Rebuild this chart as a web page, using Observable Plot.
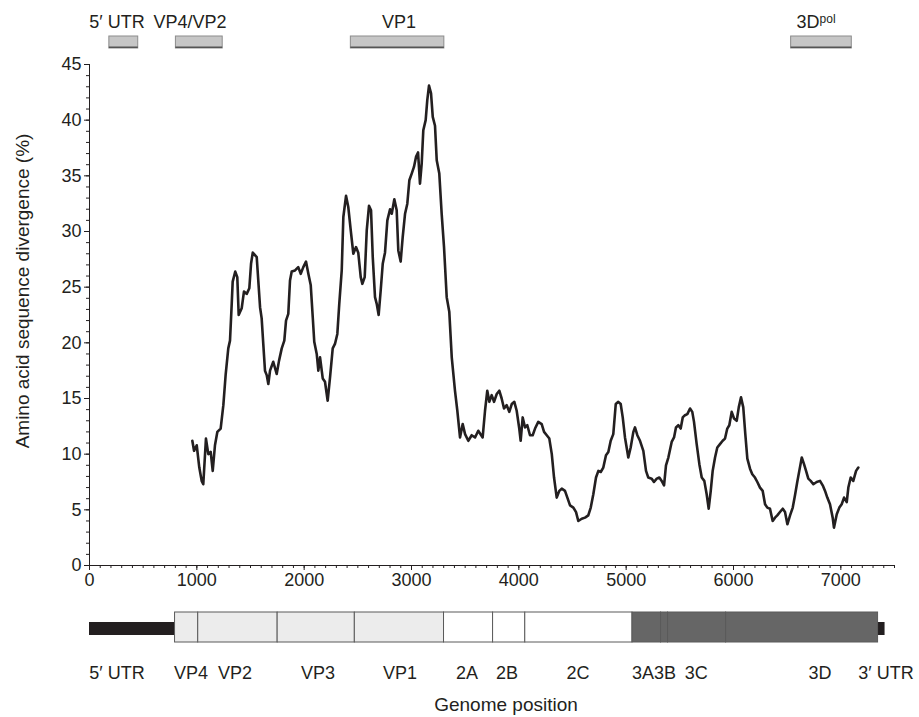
<!DOCTYPE html>
<html><head><meta charset="utf-8">
<script src="https://cdn.jsdelivr.net/npm/d3@7"></script>
<script src="https://cdn.jsdelivr.net/npm/@observablehq/plot@0.6"></script>
<style>
body{margin:0;background:#fff;}
#chart{width:919px;height:717px;overflow:hidden;}
#chart svg{display:block;}
</style></head><body><div id="chart"></div>
<script>
// ---- data ----
const positions = [958,974,999,1023,1045,1060,1085,1107,1129,1148,
1169,1191,1222,1247,1269,1293,1309,1325,1334,1358,
1377,1390,1418,1439,1465,1489,1505,1521,1558,1589,
1604,1619,1635,1651,1666,1682,1712,1744,1766,1791,
1815,1831,1852,1868,1884,1915,1945,1968,1992,2017,
2039,2061,2080,2094,2117,2132,2148,2173,2194,2219,
2241,2266,2287,2309,2327,2350,2365,2390,2411,2434,
2458,2483,2504,2527,2542,2564,2583,2604,2623,2639,
2660,2676,2694,2713,2732,2753,2775,2800,2816,2840,
2862,2877,2899,2918,2940,2961,2980,3002,3023,3042,
3061,3079,3095,3110,3132,3147,3163,3182,3198,3219,
3235,3259,3281,3303,3328,3352,3375,3405,3427,3452,
3477,3499,3529,3561,3592,3622,3663,3685,3706,3725,
3747,3769,3794,3818,3840,3862,3887,3911,3934,3958,
3980,4004,4017,4036,4058,4079,4104,4129,4151,4181,
4213,4235,4260,4284,4307,4328,4353,4377,4400,4430,
4452,4477,4508,4533,4554,4586,4617,4647,4670,4694,
4719,4741,4763,4787,4812,4834,4856,4880,4903,4927,
4949,4968,4989,5020,5042,5067,5082,5104,5129,5160,
5185,5206,5238,5259,5285,5309,5331,5353,5371,5393,
5424,5446,5464,5486,5508,5527,5548,5570,5595,5616,
5632,5657,5682,5704,5728,5750,5769,5788,5806,5828,
5849,5874,5899,5921,5942,5961,5983,6005,6030,6049,
6070,6091,6110,6129,6154,6175,6200,6222,6247,6272,
6294,6315,6340,6365,6387,6408,6433,6459,6480,6502,
6527,6552,6573,6594,6613,6636,6657,6676,6697,6719,
6744,6775,6806,6831,6853,6874,6899,6924,6936,6962,
6986,7008,7030,7055,7070,7092,7116,7142,7163];
const divergence = [11.2,10.3,10.8,8.8,7.6,7.3,11.4,10.0,10.2,8.5,
10.8,12.0,12.3,14.4,17.2,19.5,20.2,23.5,25.5,26.4,
25.9,22.5,23.1,24.6,24.4,24.9,27.1,28.1,27.7,23.2,
22.2,19.9,17.5,17.1,16.3,17.5,18.3,17.2,18.4,19.5,
20.2,22.0,22.6,25.6,26.4,26.5,26.8,26.2,26.8,27.3,
26.2,25.2,22.3,20.1,19.0,17.5,18.7,16.8,16.5,14.8,
16.9,19.5,19.9,20.8,23.5,26.5,31.3,33.2,32.2,30.1,
28.0,28.6,28.1,25.9,25.3,25.9,30.1,32.3,31.9,27.7,
24.1,23.5,22.5,24.7,27.1,28.1,31.0,32.0,31.6,32.9,
31.9,28.3,27.3,29.5,31.6,32.5,34.6,35.2,35.8,36.7,
37.1,34.3,36.1,39.1,40.0,41.8,43.1,42.4,40.3,39.5,
36.4,35.2,31.6,28.6,24.1,22.8,18.7,15.7,13.9,11.5,
12.7,11.8,11.2,11.7,11.5,12.1,11.5,13.9,15.7,14.7,
15.3,14.7,15.4,15.7,15.0,14.1,14.4,13.8,14.5,14.7,
13.9,12.3,11.2,13.3,12.4,12.6,11.7,11.7,12.3,12.9,
12.7,12.0,11.7,11.4,10.0,7.9,6.1,6.7,6.9,6.7,
6.1,5.4,5.2,4.8,4.0,4.2,4.3,4.5,5.2,6.4,
7.9,8.5,8.4,8.8,9.9,10.2,11.2,11.8,14.5,14.7,
14.5,13.3,11.5,9.7,10.6,12.0,12.4,11.7,11.2,10.3,
8.5,7.9,7.8,7.5,7.8,7.9,7.6,7.2,9.0,9.7,
11.1,11.5,12.4,12.6,12.3,13.3,13.5,13.6,14.1,13.8,
12.9,10.9,9.1,7.9,7.6,6.4,5.1,6.7,8.5,9.7,
10.6,10.9,11.2,11.4,12.3,12.6,13.8,13.2,13.0,14.2,
15.1,14.2,11.8,9.6,8.7,8.2,7.9,7.5,7.0,6.7,
5.5,5.2,5.1,4.0,4.3,4.5,4.8,5.1,4.8,3.7,
4.5,5.2,6.3,7.5,8.5,9.7,9.1,8.5,7.8,7.6,
7.3,7.5,7.6,7.2,6.7,6.1,5.5,4.3,3.4,4.6,
5.2,5.5,6.1,5.7,7.0,7.9,7.6,8.5,8.8];

// regions analysed (top bars)
const regionNames = ["5′ UTR","VP4/VP2","VP1","3Dpol"];
const regionStart = [185, 805, 2435, 6537];
const regionEnd   = [454, 1241, 3306, 7102];
const regionLabelAt = [256, 936, 2883, 6769];

// genome map
const segNames = ["VP4","VP2","VP3","VP1","2A","2B","2C","3A","3B","3C","3D"];
const segGroup = ["P1","P1","P1","P1","P2","P2","P2","P3","P3","P3","P3"];
const segStart = [797,1013,1753,2472,3303,3760,4060,5059,5325,5390,5931];
const segEnd   = [1013,1753,2472,3303,3760,4060,5059,5325,5390,5931,7347];
const utrNames = ["5′ UTR","3′ UTR"];
const utrStart = [0, 7347];
const utrEnd   = [797, 7412];
const mapLabels   = ["5′ UTR","VP4","VP2","VP3","VP1","2A","2B","2C","3A","3B","3C","3D","3′ UTR"];
const mapLabelAt  = [256,946,1356,2129,2893,3517,3890,4552,5158,5363,5652,6806,7421];

const yTicks = d3.range(0, 46, 5);
const yMinor = d3.range(0, 46, 1);
const xTicks = d3.range(0, 7001, 1000);
const xMinor = d3.range(0, 7501, 100);

// ---- build ----
const FONT = '"Liberation Sans", Arial, Helvetica, sans-serif';
const INK = "#231f20";
const W = 919, ML = 89, MR = 25;
const xDomain = [0, 7500];
const plotStyle = {fontFamily: FONT, fontSize: "18px", color: INK, background: "transparent", overflow: "visible"};

const series = positions.map((p, i) => ({pos: p, div: divergence[i]}));
const regions = regionNames.map((n, i) => ({name: n, start: regionStart[i], end: regionEnd[i], at: regionLabelAt[i]}));
const segments = segNames.map((n, i) => ({name: n, group: segGroup[i], start: segStart[i], end: segEnd[i]}));
const utrs = utrNames.map((n, i) => ({name: n, start: utrStart[i], end: utrEnd[i]}));
const labels = mapLabels.map((n, i) => ({name: n, at: mapLabelAt[i]}));

const topPlot = Plot.plot({
  width: W, height: 56, marginLeft: ML, marginRight: MR, marginTop: 36, marginBottom: 8,
  style: plotStyle, x: {domain: xDomain, axis: null},
  marks: [
    Plot.rect(regions, {x1: "start", x2: "end", fill: "#c6c6c6", stroke: "#8c8c8c", strokeWidth: 1}),
    Plot.rect(regions, {x1: "start", x2: "end", fill: "#555", insetTop: 10.5}),
    Plot.text(regions, {x: "at", text: "name", frameAnchor: "top", dy: -21, fill: INK, fontSize: 18})
  ]
});

const mainPlot = Plot.plot({
  width: W, height: 544, marginLeft: ML, marginRight: MR, marginTop: 8, marginBottom: 35,
  style: plotStyle,
  x: {domain: xDomain, label: null},
  y: {domain: [0, 45], label: null},
  marks: [
    Plot.axisY(yMinor, {tickSize: 3, text: null, label: null, stroke: INK}),
    Plot.axisY(yTicks, {tickSize: 5, tickPadding: 3, label: null, stroke: INK, fill: INK}),
    Plot.axisX(xMinor, {tickSize: 3, text: null, label: null, stroke: INK}),
    Plot.axisX(xTicks, {tickSize: 5, tickPadding: 3, label: null, tickFormat: d3.format("d"), stroke: INK, fill: INK}),
    Plot.ruleX([0], {stroke: INK}),
    Plot.ruleY([0], {stroke: INK}),
    Plot.text(["Amino acid sequence divergence (%)"], {text: d => d, frameAnchor: "left", textAnchor: "middle", dx: -67, dy: -24, rotate: -90, fill: INK, fontSize: 19}),
    Plot.line(series, {x: "pos", y: "div", stroke: INK, strokeWidth: 2.6, strokeLinejoin: "round"})
  ]
});

const mapPlot = Plot.plot({
  width: W, height: 117, marginLeft: ML, marginRight: MR, marginTop: 12, marginBottom: 75,
  style: plotStyle, x: {domain: xDomain, axis: null},
  color: {domain: ["P1", "P2", "P3"], range: ["#ececec", "#ffffff", "#666666"]},
  marks: [
    Plot.rect(utrs, {x1: "start", x2: "end", fill: INK, insetTop: 10, insetBottom: 7}),
    Plot.rect(segments, {x1: "start", x2: "end", fill: "group", stroke: "#5a5a5a", strokeWidth: 1}),
    Plot.text(labels, {x: "at", text: "name", frameAnchor: "bottom", dy: 36, fill: INK, fontSize: 18}),
    Plot.text(["Genome position"], {text: d => d, frameAnchor: "bottom", dx: 14, dy: 68, fill: INK, fontSize: 19})
  ]
});

const root = document.getElementById("chart");
root.append(topPlot, mainPlot, mapPlot);

// superscript "pol" in 3Dpol
d3.select(topPlot).selectAll("text").filter(function () { return this.textContent === "3Dpol"; })
  .each(function () {
    const t = d3.select(this);
    t.text("3D");
    t.append("tspan").attr("font-size", 12).attr("dy", "-0.45em").text("pol");
  });
</script>
</body></html>
